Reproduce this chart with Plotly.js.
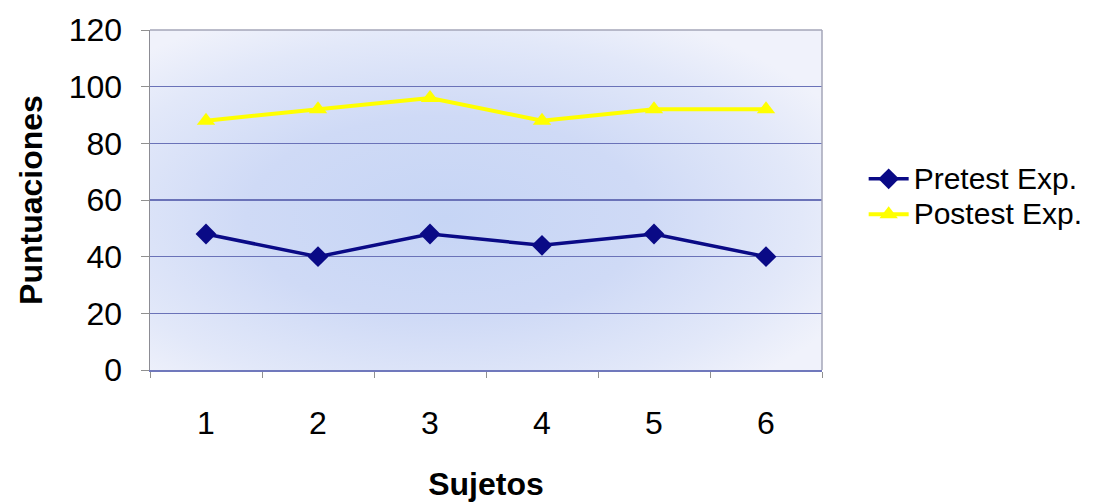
<!DOCTYPE html>
<html>
<head>
<meta charset="utf-8">
<script src="https://cdn.plot.ly/plotly-3.0.1.min.js"></script>
<style>
  html, body { margin: 0; padding: 0; background: #ffffff; }
  #chart { width: 1111px; height: 503px; }
</style>
</head>
<body>
<div id="chart"></div>
<script>
// Scores per subject, before and after the experimental treatment
const sujetos = [1, 2, 3, 4, 5, 6];
const pretestExp = [48, 40, 48, 44, 48, 40];
const postestExp = [88, 92, 96, 88, 92, 92];
const yTicks = [0, 20, 40, 60, 80, 100, 120];
const seriesNames = ['Pretest Exp.', 'Postest Exp.'];

const FONT = '"Liberation Sans", Arial, Helvetica, sans-serif';
const FS = 32;
const LEGEND_FS = 30;

// Legend labels are set in a larger face while the legend rows stay compact
const legendLabel = s => '<span style="font-size:' + LEGEND_FS + 'px">' + s + '</span>';

// Soft blue wash behind the plotting area
const bgSvg =
  "<svg xmlns='http://www.w3.org/2000/svg' width='672' height='340' viewBox='0 0 672 340' preserveAspectRatio='none'>" +
  "<defs><radialGradient id='g' cx='0.44' cy='0.55' r='0.66'>" +
  "<stop offset='0' stop-color='#c6d5f5'/>" +
  "<stop offset='0.45' stop-color='#cfdaf6'/>" +
  "<stop offset='0.8' stop-color='#e2e8f9'/>" +
  "<stop offset='1' stop-color='#f0f2fb'/>" +
  "</radialGradient></defs>" +
  "<rect width='672' height='340' fill='url(#g)'/></svg>";
const bgUri = 'data:image/svg+xml;charset=utf-8,' + encodeURIComponent(bgSvg);

const traces = [
  {
    x: sujetos, y: pretestExp, name: legendLabel(seriesNames[0]),
    type: 'scatter', mode: 'lines+markers',
    line: { color: '#0a0a86', width: 3.5 },
    marker: { symbol: 'diamond', size: 16, color: '#0a0a86' }
  },
  {
    x: sujetos, y: postestExp, name: legendLabel(seriesNames[1]),
    type: 'scatter', mode: 'lines+markers',
    line: { color: '#ffff00', width: 4 },
    marker: { symbol: 'triangle-up', size: 16, color: '#ffff00' }
  }
];

const layout = {
  width: 1111, height: 503,
  margin: { l: 150, r: 289, t: 30, b: 133, pad: 0 },
  paper_bgcolor: '#ffffff',
  plot_bgcolor: 'rgba(0,0,0,0)',
  font: { family: FONT, size: FS, color: '#000000' },
  showlegend: true,
  legend: {
    x: 1.062, xanchor: 'left', y: 0.51, yanchor: 'middle',
    bgcolor: 'rgba(0,0,0,0)', borderwidth: 0,
    font: { family: FONT, size: 25, color: '#000000' },
    itemwidth: 40
  },
  xaxis: {
    range: [0.5, 6.5],
    tickmode: 'array', tickvals: sujetos, ticktext: sujetos.map(String),
    ticks: '', showgrid: false, zeroline: false,
    showline: true, linecolor: '#7078bc', linewidth: 2, mirror: false,
    ticklabelstandoff: 24,
    tickfont: { family: FONT, size: FS },
    minor: { tick0: 0.5, dtick: 1, ticks: 'outside', ticklen: 6, tickcolor: '#909090', tickwidth: 1, showgrid: false },
    title: { text: '<b>Sujetos</b>', font: { family: FONT, size: FS }, standoff: 32 }
  },
  yaxis: {
    range: [0, 120],
    tickmode: 'array', tickvals: yTicks, ticktext: yTicks.map(String),
    ticks: 'outside', ticklen: 8, tickcolor: '#909090', tickwidth: 1,
    showgrid: true, gridcolor: '#6a72b8', gridwidth: 1.6,
    zeroline: false,
    showline: true, linecolor: '#8c8c94', linewidth: 1.5, mirror: false,
    ticklabelstandoff: 12,
    tickfont: { family: FONT, size: FS },
    title: { text: '<b>Puntuaciones</b>', font: { family: FONT, size: FS }, standoff: 16 }
  },
  shapes: [
    // top and right edges of the plotting area
    { type: 'line', xref: 'paper', yref: 'paper', x0: 0, x1: 1, y0: 1, y1: 1,
      line: { color: '#a4a6b8', width: 1.5 } },
    { type: 'line', xref: 'paper', yref: 'paper', x0: 1, x1: 1, y0: 0, y1: 1,
      line: { color: '#a4a6b8', width: 1.5 } }
  ],
  images: [
    { source: bgUri, xref: 'paper', yref: 'paper', x: 0, y: 1,
      sizex: 1, sizey: 1, sizing: 'stretch', layer: 'below',
      xanchor: 'left', yanchor: 'top' }
  ]
};

Plotly.newPlot('chart', traces, layout, { displayModeBar: false, staticPlot: true });
</script>
</body>
</html>
